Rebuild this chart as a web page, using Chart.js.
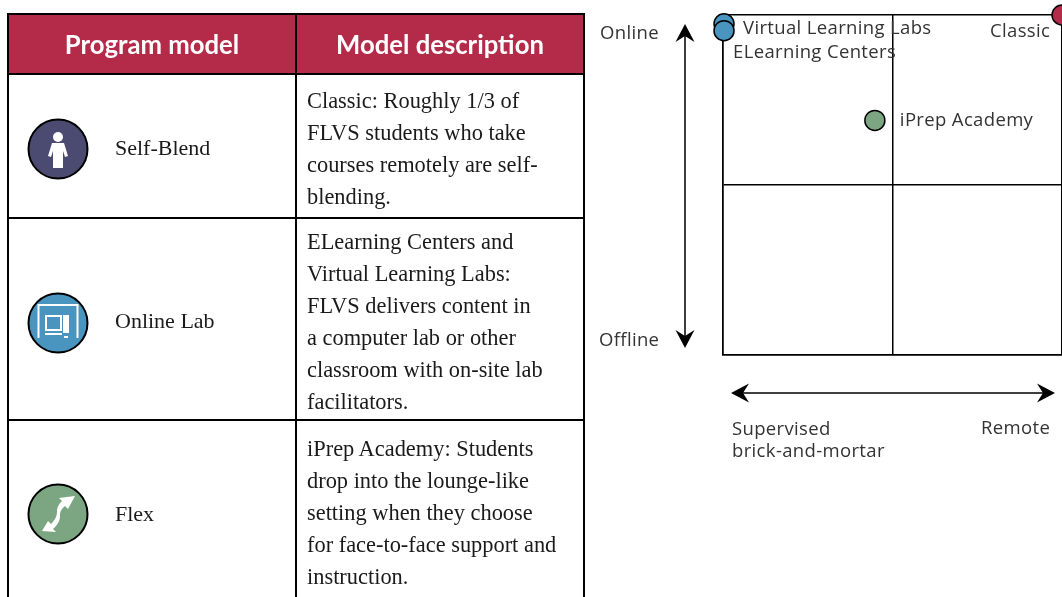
<!DOCTYPE html>
<html>
<head>
<meta charset="utf-8">
<script src="https://cdn.jsdelivr.net/npm/chart.js@4"></script>
<style>
  html, body { margin: 0; padding: 0; background: #fff; width: 1062px; height: 597px; overflow: hidden; }
  #grafico { position: absolute; left: 0; top: 0; }
  table { position: absolute; left: 7px; top: 13px; width: 576px; border-collapse: collapse; table-layout: fixed; font-family: "Liberation Serif", serif; color: #1a1a1a; }
  th, td { border: 2px solid #000; padding: 0; }
  th { background: #b42b49; color: #fff; font: bold 25.7px "Lato", sans-serif; height: 60px; padding-bottom: 1px; box-sizing: border-box; }
  td { font-size: 22.4px; line-height: 32px; }
  .modelo { position: relative; padding-left: 106px; padding-top: 4px; font-size: 22px; }
  .modelo svg { position: absolute; left: 18px; top: 50%; }
  .desc { padding-left: 10px; padding-right: 4px; padding-top: 5px; }
  tr:last-child .desc { vertical-align: top; padding-top: 12px; }
</style>
</head>
<body>
<canvas id="grafico" width="1062" height="597"></canvas>
<table id="tabela">
  <colgroup><col style="width:288px"><col style="width:288px"></colgroup>
  <thead><tr id="cabecalho"></tr></thead>
  <tbody id="corpo"></tbody>
</table>
<script>
const cabecalhos = ['Program model', 'Model description'];
const modelos = ['Self-Blend', 'Online Lab', 'Flex'];
const descricoes = [
  ['Classic: Roughly 1/3 of', 'FLVS students who take', 'courses remotely are self-', 'blending.'],
  ['ELearning Centers and', 'Virtual Learning Labs:', 'FLVS delivers content in', 'a computer lab or other', 'classroom with on-site lab', 'facilitators.'],
  ['iPrep Academy: Students', 'drop into the lounge-like', 'setting when they choose', 'for face-to-face support and', 'instruction.']
];

const nomesPontos = ['Classic', 'ELearning Centers', 'Virtual Learning Labs', 'iPrep Academy'];
const valoresX = [100, 0.3, 0.3, 44.8];
const valoresY = [100, 95.4, 97.4, 69];
const coresPontos = ['#b42b49', '#4a95c0', '#4a95c0', '#7ca682'];

// desvio dos rotulos em relacao ao ponto
const desvios = [[-72, 16], [9, 21], [19, 4], [25, -1]];

const alturasLinhas = [144, 202, 184];
const ajusteIcones = [-28, -27, -29];

const icones = [
  '<circle cx="31" cy="31" r="29.5" fill="#4b4a70" stroke="#000" stroke-width="2"/><circle cx="31" cy="19" r="5" fill="#fff"/><path d="M25 25h12l4 13-3 1-2-6v17h-10v-17l-2 6-3-1z" fill="#fff"/>',
  '<circle cx="31" cy="31" r="29.5" fill="#4a95c0" stroke="#000" stroke-width="2"/><path d="M11.5 46V13h39v33" fill="none" stroke="#fff" stroke-width="2"/><path d="M19 24h15v14h-15z" fill="none" stroke="#fff" stroke-width="2"/><path d="M18 41h17v2h-17z M36 23h6v18h-6z M37 44h4v2h-4z" fill="#fff"/>',
  '<circle cx="31" cy="31" r="29.5" fill="#7ca682" stroke="#000" stroke-width="2"/><path d="M48 13l-16 2 3 3c-4 4-5 7-5 11 0 4-2 8-6 12l-3-3-6 10 14 1-3-3c5-4 7-9 7-13 0-4 1-7 5-10l3 3z" fill="#fff"/>'
];

document.getElementById('cabecalho').innerHTML = cabecalhos.map(c => `<th>${c}</th>`).join('');
document.getElementById('corpo').innerHTML = modelos.map((m, i) => `
  <tr style="height:${alturasLinhas[i]}px">
    <td class="modelo"><svg width="62" height="62" style="margin-top:${ajusteIcones[i]}px">${icones[i]}</svg>${m}</td>
    <td class="desc">${descricoes[i].join('<br>')}</td>
  </tr>`).join('');

function seta(ctx, x, y, ang) {
  ctx.save();
  ctx.translate(x, y);
  ctx.rotate(ang);
  ctx.beginPath();
  ctx.moveTo(0, 0);
  ctx.lineTo(-18, -9.5);
  ctx.lineTo(-12, 0);
  ctx.lineTo(-18, 9.5);
  ctx.closePath();
  ctx.fillStyle = '#000';
  ctx.fill();
  ctx.restore();
}

const anotacoes = {
  id: 'anotacoes',
  afterDraw(chart) {
    const ctx = chart.ctx;
    ctx.save();
    ctx.font = '18.5px "Open Sans", sans-serif';
    ctx.letterSpacing = '0.35px';
    ctx.fillStyle = '#333';
    ctx.textBaseline = 'middle';
    nomesPontos.forEach((nome, i) => {
      const px = chart.scales.x.getPixelForValue(valoresX[i]);
      const py = chart.scales.y.getPixelForValue(valoresY[i]);
      ctx.fillText(nome, px + desvios[i][0], py + desvios[i][1] + 1);
    });
    ctx.fillText('Online', 600, 34);
    ctx.fillText('Offline', 599, 341);
    ctx.fillText('Supervised', 732, 430);
    ctx.fillText('brick-and-mortar', 732, 452);
    ctx.fillText('Remote', 981, 429);

    ctx.strokeStyle = '#000';
    ctx.lineWidth = 1.5;
    ctx.beginPath();
    ctx.moveTo(685, 32); ctx.lineTo(685, 340);
    ctx.moveTo(740, 393); ctx.lineTo(1046, 393);
    ctx.stroke();
    seta(ctx, 685, 24, -Math.PI / 2);
    seta(ctx, 685, 348, Math.PI / 2);
    seta(ctx, 731, 393, Math.PI);
    seta(ctx, 1055, 393, 0);
    ctx.restore();
  }
};

new Chart(document.getElementById('grafico').getContext('2d'), {
  type: 'scatter',
  data: {
    datasets: nomesPontos.map((nome, i) => ({
      label: nome,
      data: [{ x: valoresX[i], y: valoresY[i] }],
      backgroundColor: coresPontos[i],
      borderColor: '#000',
      borderWidth: 1.5,
      pointRadius: 10,
      clip: false
    }))
  },
  options: {
    responsive: false,
    animation: false,
    layout: { autoPadding: false, padding: { left: 723, top: 15, right: 0, bottom: 242 } },
    plugins: { legend: { display: false }, tooltip: { enabled: false } },
    scales: {
      x: {
        min: 0, max: 100,
        ticks: { stepSize: 50, display: false },
        grid: { color: '#000', lineWidth: 1.5, drawTicks: false },
        border: { color: '#000', width: 1.5 }
      },
      y: {
        min: 0, max: 100,
        ticks: { stepSize: 50, display: false },
        grid: { color: '#000', lineWidth: 1.5, drawTicks: false },
        border: { color: '#000', width: 1.5 }
      }
    }
  },
  plugins: [anotacoes]
});
</script>
</body>
</html>
